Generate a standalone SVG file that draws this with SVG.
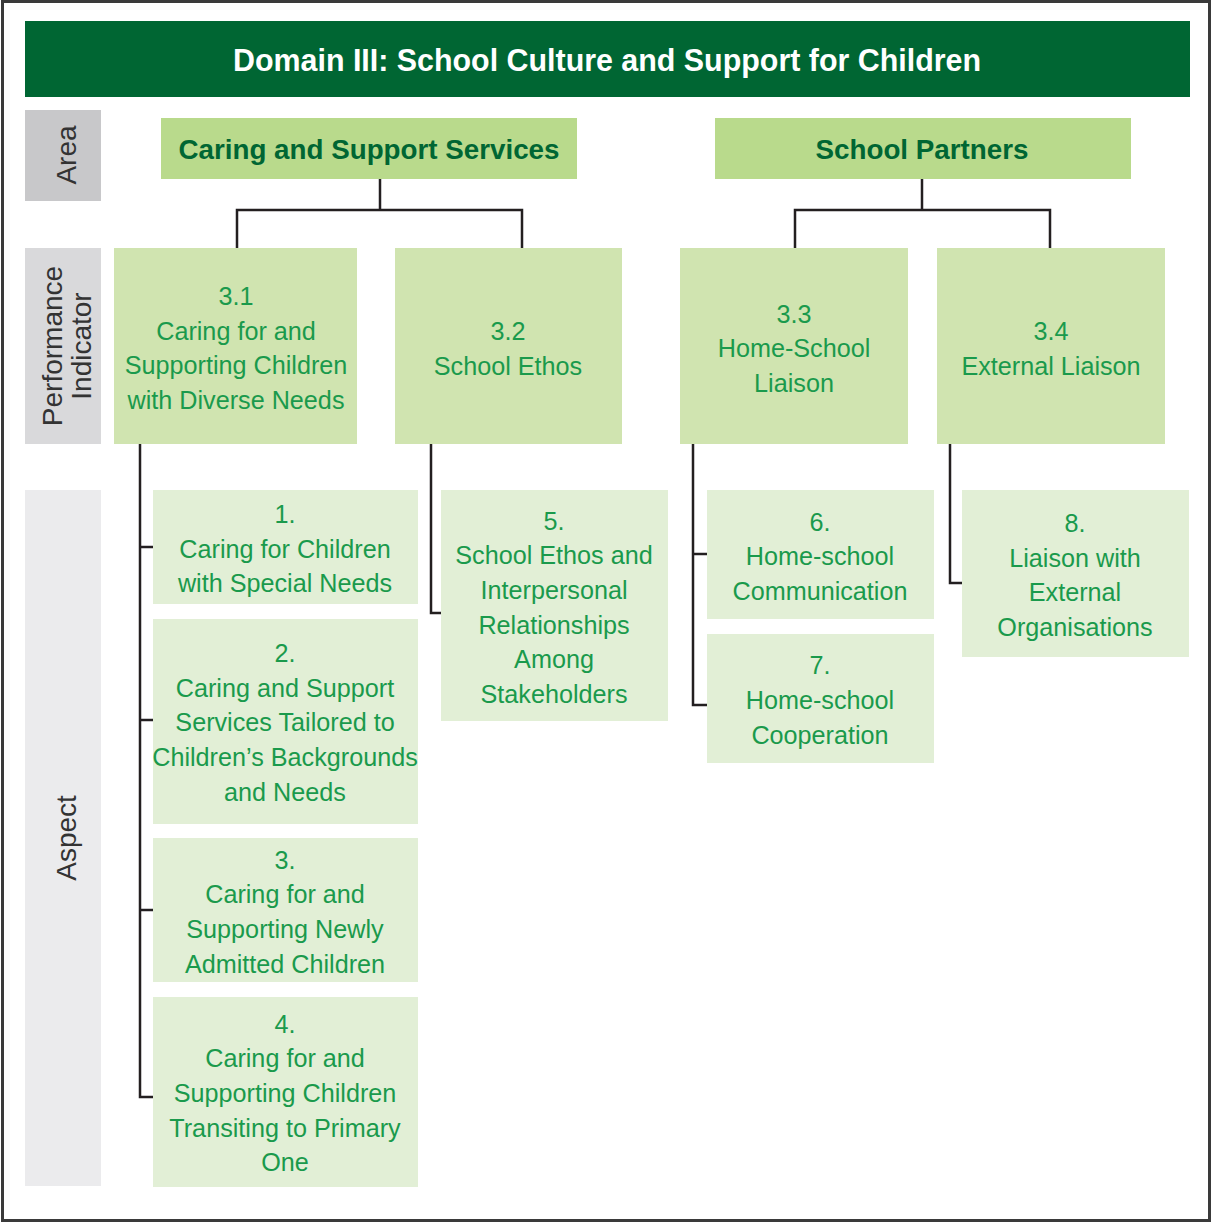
<svg xmlns="http://www.w3.org/2000/svg" width="1212" height="1222" viewBox="0 0 1212 1222">
<style>
.t{font-family:"Liberation Sans",Arial,sans-serif;font-size:25.2px;fill:#1a9a4c;text-anchor:middle}
.side{font-family:"Liberation Sans",Arial,sans-serif;font-size:28px;fill:#333;text-anchor:middle}
.area{font-family:"Liberation Sans",Arial,sans-serif;font-size:28px;font-weight:bold;fill:#006633;text-anchor:middle}
.ab{fill:#b9da8c}
.pi{fill:#d0e4b0}
.as{fill:#e2efd6}
.ln{fill:none;stroke:#231f20;stroke-width:2.5}
</style>
<rect x="0" y="0" width="1212" height="1222" fill="#fff"/>
<rect x="2.5" y="1.5" width="1207" height="1219" fill="#fff" stroke="#3a3a3a" stroke-width="3"/>
<g id="title">
<rect x="25" y="21" width="1165" height="76" fill="#006633"/>
<text x="607" y="71" font-family="Liberation Sans,Arial,sans-serif" font-size="32" font-weight="bold" fill="#fff" text-anchor="middle" textLength="748" lengthAdjust="spacingAndGlyphs">Domain III: School Culture and Support for Children</text>
</g>
<g id="side-labels">
<rect x="25" y="110" width="76" height="91" fill="#c8c8ca"/>
<text class="side" transform="translate(76,155) rotate(-90)">Area</text>
<rect x="25" y="248" width="76" height="196" fill="#d9d9db"/>
<text class="side" transform="translate(62,346) rotate(-90)">Performance</text>
<text class="side" transform="translate(91,346) rotate(-90)">Indicator</text>
<rect x="25" y="490" width="76" height="696" fill="#ebebed"/>
<text class="side" transform="translate(76,838) rotate(-90)">Aspect</text>
</g>
<g id="connectors">
<polyline class="ln" points="380,179 380,210"/>
<polyline class="ln" points="237,248 237,210 522,210 522,248"/>
<polyline class="ln" points="922,179 922,210"/>
<polyline class="ln" points="795,248 795,210 1050,210 1050,248"/>
<polyline class="ln" points="140,444 140,1097 153,1097"/>
<line class="ln" x1="140" y1="547" x2="153" y2="547"/>
<line class="ln" x1="140" y1="720" x2="153" y2="720"/>
<line class="ln" x1="140" y1="910" x2="153" y2="910"/>
<polyline class="ln" points="431,444 431,613 441,613"/>
<polyline class="ln" points="693,444 693,705 707,705"/>
<line class="ln" x1="693" y1="554" x2="707" y2="554"/>
<polyline class="ln" points="950,444 950,583 962,583"/>
</g>
<g id="area-caring">
<rect class="ab" x="161" y="118" width="416" height="61"/>
<text class="area" x="369" y="159" textLength="381" lengthAdjust="spacingAndGlyphs">Caring and Support Services</text>
</g>
<g id="area-partners">
<rect class="ab" x="715" y="118" width="416" height="61"/>
<text class="area" x="922" y="159" textLength="213" lengthAdjust="spacingAndGlyphs">School Partners</text>
</g>
<g id="pi-3-1">
<rect class="pi" x="114" y="248" width="243" height="196"/>
<text class="t" x="236" y="305">3.1</text>
<text class="t" x="236" y="340">Caring for and</text>
<text class="t" x="236" y="374">Supporting Children</text>
<text class="t" x="236" y="409">with Diverse Needs</text>
</g>
<g id="pi-3-2">
<rect class="pi" x="395" y="248" width="227" height="196"/>
<text class="t" x="508" y="340">3.2</text>
<text class="t" x="508" y="375">School Ethos</text>
</g>
<g id="pi-3-3">
<rect class="pi" x="680" y="248" width="228" height="196"/>
<text class="t" x="794" y="323">3.3</text>
<text class="t" x="794" y="357">Home-School</text>
<text class="t" x="794" y="392">Liaison</text>
</g>
<g id="pi-3-4">
<rect class="pi" x="937" y="248" width="228" height="196"/>
<text class="t" x="1051" y="340">3.4</text>
<text class="t" x="1051" y="375">External Liaison</text>
</g>
<g id="aspect-1">
<rect class="as" x="153" y="490" width="265" height="114"/>
<text class="t" x="285" y="523">1.</text>
<text class="t" x="285" y="558">Caring for Children</text>
<text class="t" x="285" y="592">with Special Needs</text>
</g>
<g id="aspect-2">
<rect class="as" x="153" y="619" width="265" height="205"/>
<text class="t" x="285" y="662">2.</text>
<text class="t" x="285" y="697">Caring and Support</text>
<text class="t" x="285" y="731">Services Tailored to</text>
<text class="t" x="285" y="766">Children’s Backgrounds</text>
<text class="t" x="285" y="801">and Needs</text>
</g>
<g id="aspect-3">
<rect class="as" x="153" y="838" width="265" height="144"/>
<text class="t" x="285" y="869">3.</text>
<text class="t" x="285" y="903">Caring for and</text>
<text class="t" x="285" y="938">Supporting Newly</text>
<text class="t" x="285" y="973">Admitted Children</text>
</g>
<g id="aspect-4">
<rect class="as" x="153" y="997" width="265" height="190"/>
<text class="t" x="285" y="1033">4.</text>
<text class="t" x="285" y="1067">Caring for and</text>
<text class="t" x="285" y="1102">Supporting Children</text>
<text class="t" x="285" y="1137">Transiting to Primary</text>
<text class="t" x="285" y="1171">One</text>
</g>
<g id="aspect-5">
<rect class="as" x="441" y="490" width="227" height="231"/>
<text class="t" x="554" y="530">5.</text>
<text class="t" x="554" y="564">School Ethos and</text>
<text class="t" x="554" y="599">Interpersonal</text>
<text class="t" x="554" y="634">Relationships</text>
<text class="t" x="554" y="668">Among</text>
<text class="t" x="554" y="703">Stakeholders</text>
</g>
<g id="aspect-6">
<rect class="as" x="707" y="490" width="227" height="129"/>
<text class="t" x="820" y="531">6.</text>
<text class="t" x="820" y="565">Home-school</text>
<text class="t" x="820" y="600">Communication</text>
</g>
<g id="aspect-7">
<rect class="as" x="707" y="634" width="227" height="129"/>
<text class="t" x="820" y="674">7.</text>
<text class="t" x="820" y="709">Home-school</text>
<text class="t" x="820" y="744">Cooperation</text>
</g>
<g id="aspect-8">
<rect class="as" x="962" y="490" width="227" height="167"/>
<text class="t" x="1075" y="532">8.</text>
<text class="t" x="1075" y="567">Liaison with</text>
<text class="t" x="1075" y="601">External</text>
<text class="t" x="1075" y="636">Organisations</text>
</g>
</svg>
